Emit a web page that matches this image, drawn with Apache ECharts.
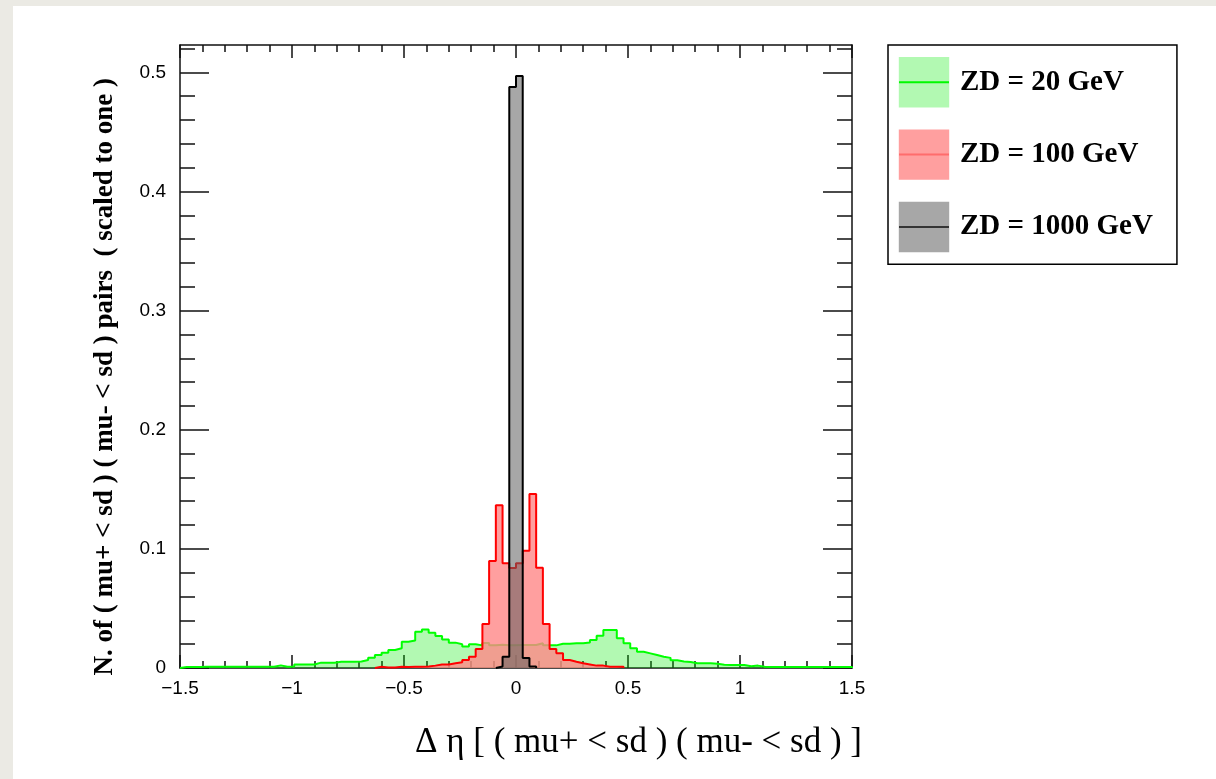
<!DOCTYPE html>
<html>
<head>
<meta charset="utf-8">
<script src="https://cdn.jsdelivr.net/npm/echarts@6/dist/echarts.min.js"></script>
<style>
  html, body { margin: 0; padding: 0; background: #ebeae4; }
  #chart { position: absolute; left: 13px; top: 6px; width: 1203px; height: 773px; background: #fff; }
</style>
</head>
<body>
<div id="chart"></div>
<script>
// histogram binning: 100 bins of 0.03 from -1.5 to 1.5
var binLo = -1.5;
var binW = 0.03;

var xTicks = [-1.5, -1, -0.5, 0, 0.5, 1, 1.5];
var yMajor = [0, 0.1, 0.2, 0.3, 0.4, 0.5];
var yMinor = [0, 0.02, 0.04, 0.06, 0.08, 0.1, 0.12, 0.14, 0.16, 0.18, 0.2, 0.22, 0.24, 0.26,
  0.28, 0.3, 0.32, 0.34, 0.36, 0.38, 0.4, 0.42, 0.44, 0.46, 0.48, 0.5, 0.52];

var seriesNames = ['ZD = 20 GeV', 'ZD = 100 GeV', 'ZD = 1000 GeV'];
var seriesColors = ['#00ff00', '#ff0000', '#000000'];
// stippled ROOT fills, approximated by light tints
var fillColors = ['rgba(0,235,0,0.3)', 'rgba(255,135,135,0.8)', 'rgba(95,95,95,0.55)'];

// ZD = 20 GeV
var zd20 = [
  0.0008, 0.0008, 0.0008, 0.001, 0.001, 0.001, 0.001, 0.001, 0.001, 0.001,
  0.001, 0.001, 0.001, 0.001, 0.0022, 0.001, 0.0012, 0.003, 0.003, 0.003,
  0.0045, 0.0045, 0.0045, 0.0053, 0.0053, 0.0053, 0.0055, 0.0067, 0.0087, 0.011,
  0.0129, 0.0151, 0.0165, 0.022, 0.023, 0.0305, 0.0324, 0.0296, 0.0268, 0.024,
  0.0213, 0.020, 0.018, 0.020, 0.019, 0.021, 0.019, 0.0195, 0.019, 0.019,
  0.0193, 0.0193, 0.0193, 0.0207, 0.019, 0.019, 0.0204, 0.0204, 0.0207, 0.0207,
  0.0215, 0.0235, 0.027, 0.032, 0.032, 0.025, 0.0207, 0.0165, 0.0137, 0.0123,
  0.0109, 0.0095, 0.0085, 0.0065, 0.0055, 0.005, 0.004, 0.004, 0.004, 0.0035,
  0.0028, 0.0025, 0.0025, 0.0025, 0.0015, 0.002, 0.001, 0.0008, 0.0008, 0.0008,
  0.0008, 0.0008, 0.0008, 0.0008, 0.0008, 0.0008, 0.0008, 0.0008, 0.0008, 0.0008
];

// ZD = 100 GeV
var zd100 = [
  0, 0, 0, 0, 0, 0, 0, 0, 0, 0,
  0, 0, 0, 0, 0, 0, 0, 0, 0, 0,
  0, 0, 0, 0, 0, 0, 0, 0, 0, 0.001,
  0.0005, 0.0005, 0.001, 0.0008, 0.001, 0.001, 0.0012, 0.002, 0.003, 0.003,
  0.004, 0.0048, 0.0067, 0.0095, 0.016, 0.0369, 0.0898, 0.1367, 0.088, 0.084,
  0.088, 0.0984, 0.146, 0.0842, 0.0369, 0.016, 0.0123, 0.0067, 0.0053, 0.004,
  0.003, 0.002, 0.002, 0.001, 0.001, 0.001, 0, 0, 0, 0,
  0, 0, 0, 0, 0, 0, 0, 0, 0, 0,
  0, 0, 0, 0, 0, 0, 0, 0, 0, 0,
  0, 0, 0, 0, 0, 0, 0, 0, 0, 0
];

// ZD = 1000 GeV
var zd1000 = [
  0, 0, 0, 0, 0, 0, 0, 0, 0, 0,
  0, 0, 0, 0, 0, 0, 0, 0, 0, 0,
  0, 0, 0, 0, 0, 0, 0, 0, 0, 0,
  0, 0, 0, 0, 0, 0, 0, 0, 0, 0,
  0, 0, 0, 0, 0, 0, 0, 0.0012, 0.0095, 0.4877,
  0.4969, 0.0084, 0.0012, 0, 0, 0, 0, 0, 0, 0,
  0, 0, 0, 0, 0, 0, 0, 0, 0, 0,
  0, 0, 0, 0, 0, 0, 0, 0, 0, 0,
  0, 0, 0, 0, 0, 0, 0, 0, 0, 0,
  0, 0, 0, 0, 0, 0, 0, 0, 0, 0
];

// bin contents -> step points (left edge of each bin), trimmed to the filled range
function histPoints(vals) {
  var a = 0, b = vals.length - 1;
  while (a < b && vals[a] === 0) a++;
  while (b > a && vals[b] === 0) b--;
  var pts = [[binLo + a * binW, 0]];
  for (var k = a; k <= b; k++) {
    pts.push([binLo + k * binW, vals[k]]);
  }
  pts.push([binLo + (b + 1) * binW, 0]);
  return pts;
}

var axisCol = '#111';
var lineSt = { color: axisCol, width: 1.5 };

function histSeries(i, vals) {
  return {
    type: 'line',
    name: seriesNames[i],
    step: 'end',
    data: histPoints(vals),
    showSymbol: false,
    symbol: 'rect',
    silent: true,
    animation: false,
    emphasis: { disabled: true },
    lineStyle: { color: seriesColors[i], width: 2 },
    itemStyle: { color: fillColors[i], borderWidth: 0 },
    areaStyle: { color: fillColors[i], opacity: 1 },
    z: 2 + i
  };
}

// x axes: bottom with labels, top mirrored
function xAx(pos, labels) {
  return {
    type: 'value', min: -1.5, max: 1.5, interval: 0.5, position: pos,
    axisLine: { show: true, onZero: false, lineStyle: lineSt },
    axisTick: { inside: true, length: 13, lineStyle: lineSt },
    minorTick: { show: true, splitNumber: 5, length: 7, lineStyle: lineSt },
    splitLine: { show: false },
    axisLabel: labels ? {
      margin: 11, fontFamily: 'Liberation Sans', fontSize: 19, color: '#000',
      customValues: xTicks,
      formatter: function (v) { return v < 0 ? '\u2212' + (-v) : String(v); }
    } : { show: false }
  };
}

// y axes: one for major ticks (+labels), one overlaid for minor ticks
function yAx(pos, major, labels) {
  return {
    type: 'value', min: 0, max: 0.523, position: pos,
    axisLine: { show: major, onZero: false, lineStyle: lineSt },
    axisTick: { inside: true, length: major ? 29 : 15, customValues: major ? yMajor : yMinor, lineStyle: lineSt },
    splitLine: { show: false },
    axisLabel: labels ? {
      customValues: yMajor, margin: 14,
      fontFamily: 'Liberation Sans', fontSize: 19, color: '#000'
    } : { show: false }
  };
}

var chart = echarts.init(document.getElementById('chart'));

var option = {
  animation: false,
  grid: { left: 167, top: 39, width: 672, height: 623 },
  xAxis: [xAx('bottom', true), xAx('top', false)],
  yAxis: [yAx('left', true, true), yAx('left', false, false), yAx('right', true, false), yAx('right', false, false)],
  legend: {
    orient: 'vertical',
    left: 875,
    top: 39,
    itemWidth: 50,
    itemHeight: 63,
    itemGap: 22,
    padding: [12, 24, 12, 10],
    borderColor: '#000',
    borderWidth: 1.5,
    backgroundColor: '#fff',
    selectedMode: false,
    textStyle: {
      fontFamily: 'Liberation Serif', fontWeight: 'bold', fontSize: 29, color: '#000',
      padding: [8, 0, 0, 6]
    },
    data: seriesNames
  },
  graphic: [
    {
      type: 'text',
      x: 849, y: 737,
      style: {
        text: '\u0394 \u03b7 [ ( mu+ < sd ) ( mu- < sd ) ]',
        font: '35px "Liberation Serif"',
        fill: '#000',
        align: 'right',
        verticalAlign: 'middle'
      }
    },
    {
      type: 'text',
      x: 92, y: 72,
      rotation: Math.PI / 2,
      style: {
        text: 'N. of ( mu+ < sd ) ( mu- < sd ) pairs  ( scaled to one )',
        font: 'bold 27px "Liberation Serif"',
        fill: '#000',
        align: 'right',
        verticalAlign: 'middle'
      }
    }
  ],
  series: [
    histSeries(0, zd20),
    histSeries(1, zd100),
    histSeries(2, zd1000)
  ]
};

chart.setOption(option);
</script>
</body>
</html>
